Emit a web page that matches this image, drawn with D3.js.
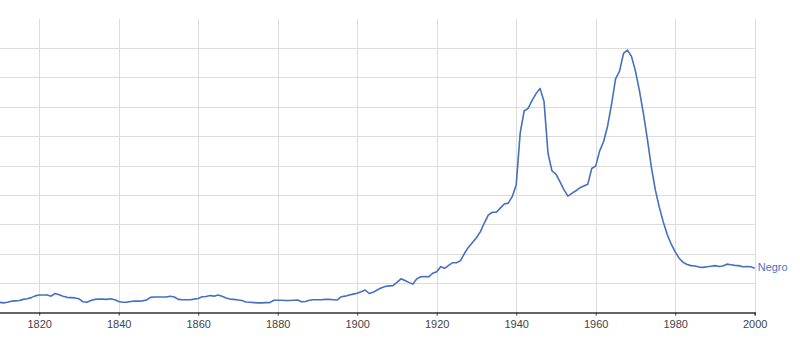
<!DOCTYPE html>
<html>
<head>
<meta charset="utf-8">
<script src="https://cdn.jsdelivr.net/npm/d3@7"></script>
<style>
  body { margin: 0; background: #fff; }
  svg { display: block; }
</style>
</head>
<body>
<div id="chart"></div>
<script>
// years and frequency (in gridline units)
const years = d3.range(1810, 2001)
const values = [
  0.34, 0.32, 0.34, 0.38, 0.39, 0.40, 0.44, 0.46, 0.50, 0.56, // 1810s
  0.59, 0.59, 0.59, 0.55, 0.64, 0.60, 0.55, 0.51, 0.50, 0.49, // 1820s
  0.46, 0.36, 0.34, 0.40, 0.44, 0.45, 0.45, 0.44, 0.46, 0.43, // 1830s
  0.37, 0.34, 0.34, 0.37, 0.38, 0.38, 0.39, 0.42, 0.51, 0.52, // 1840s
  0.52, 0.52, 0.52, 0.55, 0.52, 0.44, 0.43, 0.43, 0.43, 0.45, // 1850s
  0.47, 0.53, 0.54, 0.57, 0.55, 0.59, 0.55, 0.49, 0.45, 0.44, // 1860s
  0.42, 0.40, 0.35, 0.34, 0.33, 0.32, 0.32, 0.33, 0.33, 0.41, // 1870s
  0.41, 0.41, 0.40, 0.40, 0.41, 0.42, 0.36, 0.37, 0.41, 0.43, // 1880s
  0.43, 0.43, 0.44, 0.44, 0.43, 0.42, 0.53, 0.55, 0.59, 0.62, // 1890s
  0.65, 0.70, 0.76, 0.64, 0.68, 0.76, 0.83, 0.88, 0.90, 0.91, // 1900s
  1.02, 1.14, 1.08, 1.02, 0.96, 1.14, 1.21, 1.22, 1.21, 1.33, // 1910s
  1.38, 1.55, 1.50, 1.60, 1.69, 1.69, 1.76, 2.01, 2.22, 2.38, // 1920s
  2.54, 2.75, 3.05, 3.32, 3.41, 3.41, 3.55, 3.69, 3.72, 3.94, // 1930s
  4.34, 6.10, 6.86, 6.95, 7.22, 7.45, 7.63, 7.18, 5.42, 4.82, // 1940s
  4.71, 4.45, 4.18, 3.96, 4.05, 4.14, 4.24, 4.30, 4.36, 4.90, // 1950s
  4.98, 5.50, 5.82, 6.35, 7.10, 7.95, 8.22, 8.82, 8.93, 8.72, // 1960s
  8.22, 7.55, 6.78, 5.90, 4.95, 4.17, 3.58, 3.08, 2.65, 2.32, // 1970s
  2.06, 1.84, 1.70, 1.63, 1.59, 1.58, 1.54, 1.53, 1.55, 1.57, // 1980s
  1.59, 1.56, 1.58, 1.64, 1.62, 1.60, 1.59, 1.55, 1.56, 1.55, // 1990s
  1.50                                                        // 2000
]
const xTicks = [1820, 1840, 1860, 1880, 1900, 1920, 1940, 1960, 1980, 2000]
const yGrid = [1, 2, 3, 4, 5, 6, 7, 8, 9]
const seriesName = "Negro"

const svgWidth = 800
const svgHeight = 338
const lineColor = "#4570c0"

const data = years.map((y, i) => ({year: y, value: values[i]}))

const xScale = d3.scaleLinear()
    .domain([1800, 2000])
    .range([-40.3, 754.7])

const yScale = d3.scaleLinear()
    .domain([0, 10])
    .range([312.3, 18.8])

let svg = d3.select('#chart')
    .append('svg')
    .attr('width', svgWidth)
    .attr('height', svgHeight)

let gridGroup = svg.append("g")
let lineGroup = svg.append("g")
let axisGroup = svg.append("g")
let labelGroup = svg.append("g")

// horizontal gridlines
gridGroup.selectAll(".hgrid")
    .data(yGrid)
    .join("line")
    .attr("class", "hgrid")
    .attr("x1", xScale.range()[0])
    .attr("x2", xScale.range()[1])
    .attr("y1", d => Math.round(yScale(d)) + 0.5)
    .attr("y2", d => Math.round(yScale(d)) + 0.5)
    .attr("stroke", "#dcdcdc")
    .attr("stroke-width", 1)

// vertical gridlines
gridGroup.selectAll(".vgrid")
    .data(xTicks)
    .join("line")
    .attr("class", "vgrid")
    .attr("x1", d => Math.round(xScale(d)) + 0.5)
    .attr("x2", d => Math.round(xScale(d)) + 0.5)
    .attr("y1", yScale.range()[1])
    .attr("y2", yScale.range()[0])
    .attr("stroke", "#dcdcdc")
    .attr("stroke-width", 1)

let line = d3.line()
    .x(d => xScale(d.year))
    .y(d => yScale(d.value))

lineGroup.append("path")
    .datum(data)
    .attr("d", line)
    .attr("fill", "none")
    .attr("stroke", lineColor)
    .attr("stroke-width", 1.6)
    .attr("stroke-linejoin", "round")

// x axis
let xAxis = d3.axisBottom(xScale)
    .tickValues(xTicks)
    .tickFormat(d3.format("d"))
    .tickSize(3)
    .tickPadding(5)

axisGroup.attr("transform", `translate(0,${Math.round(yScale(0)) + 0.5})`)
    .call(xAxis)
axisGroup.select(".domain")
    .attr("stroke", "#333")
    .attr("stroke-width", 1.3)
axisGroup.selectAll(".tick line").attr("stroke", "#333")
axisGroup.selectAll(".tick text")
    .attr("fill", "#444")
    .attr("font-family", "Arial, 'Liberation Sans', sans-serif")
    .attr("font-size", "11px")

// series label at the end of the line
let last = data[data.length - 1]
labelGroup.append("text")
    .attr("x", xScale(last.year) + 3)
    .attr("y", yScale(last.value) - 0.5)
    .attr("dominant-baseline", "middle")
    .attr("font-family", "Arial, 'Liberation Sans', sans-serif")
    .attr("font-size", "11px")
    .attr("fill", "#4a74c6")
    .text(seriesName)
</script>
</body>
</html>
